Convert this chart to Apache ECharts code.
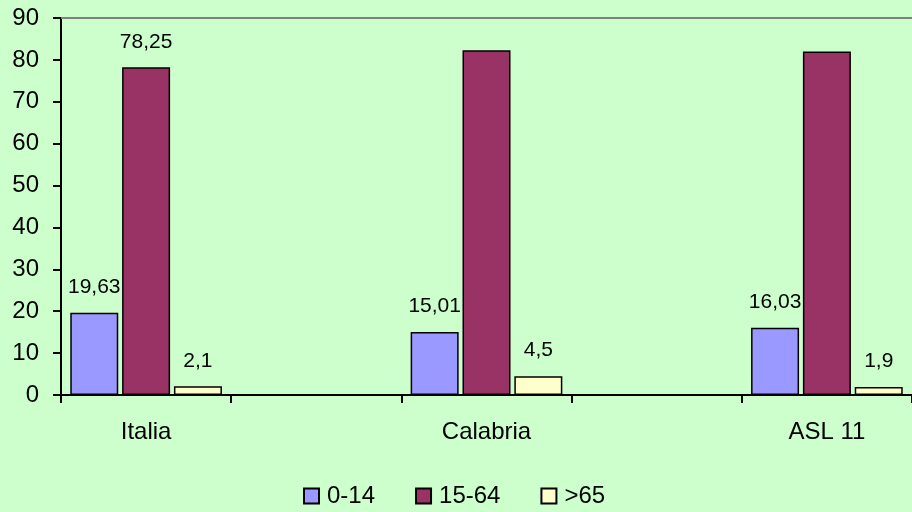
<!DOCTYPE html>
<html>
<head>
    <meta charset="utf-8">
    <script src="https://cdn.jsdelivr.net/npm/echarts@6/dist/echarts.min.js"></script>
    <style>
        body { margin: 0; background: #CCFFCC; }
    </style>
</head>
<body>
    <div id="main" style="width: 912px;height:512px;"></div>
	<script type="text/javascript">
        // categorie (quelle vuote fanno da spaziatura come nell'originale)
        var categorie = ['Italia', '', 'Calabria', '', 'ASL 11'];
        var fasce = ['0-14', '15-64', '>65'];
        var eta0_14 = [19.63, null, 15.01, null, 16.03];
        var eta15_64 = [78.25, null, 82.3, null, 82.0];
        var eta65 = [2.1, null, 4.5, null, 1.9];
        // quali etichette sono visibili
        var etichette0_14 = [true, false, true, false, true];
        var etichette15_64 = [true, false, false, false, false];
        var etichette65 = [true, false, true, false, true];
        var yTicks = [0, 10, 20, 30, 40, 50, 60, 70, 80, 90];

        var colori = ['#9999FF', '#993366', '#FFFFCC'];

        function serie(nome, valori, mostra, colore) {
            return {
                name: nome,
                type: 'bar',
                barWidth: 48,
                barGap: '8%',
                itemStyle: { color: colore, borderColor: '#000', borderWidth: 1.5 },
                data: valori.map(function (v, i) {
                    return {
                        value: v,
                        label: {
                            show: mostra[i],
                            position: 'top',
                            distance: 15,
                            color: '#000',
                            fontFamily: 'Liberation Sans, Arial',
                            fontSize: 21,
                            formatter: function (p) { return String(p.value).replace('.', ','); }
                        }
                    };
                })
            };
        }

        var myChart = echarts.init(document.getElementById('main'));
		myChart.setOption({
            backgroundColor: '#CCFFCC',
            animation: false,
            textStyle: { fontFamily: 'Liberation Sans, Arial' },
            grid: { left: 61, top: 18, width: 860, height: 377 },
			legend: {
				data: fasce,
                top: 479,
                left: 298,
                itemWidth: 15,
                itemHeight: 15,
                itemGap: 40,
                icon: 'rect',
                textStyle: { fontSize: 24, color: '#000', padding: [0, 0, 0, 3] }
			},
			xAxis: [{
                type: 'category',
				data: categorie,
                axisLine: { lineStyle: { color: '#000', width: 2 } },
                axisTick: { show: true, length: 8, lineStyle: { color: '#000', width: 2 } },
                axisLabel: { fontSize: 24, color: '#000', margin: 25 }
			}, {
                type: 'category',
                position: 'top',
                data: categorie,
                axisLine: { lineStyle: { color: '#808080', width: 2 } },
                axisTick: { show: false },
                axisLabel: { show: false }
            }],
			yAxis: {
                type: 'value',
                min: yTicks[0],
                max: yTicks[yTicks.length - 1],
                interval: 10,
                axisLine: { show: true, lineStyle: { color: '#000', width: 2 } },
                axisTick: { show: true, length: 8, lineStyle: { color: '#000', width: 2 } },
                axisLabel: { fontSize: 24, color: '#000', margin: 22 },
                splitLine: { show: false }
            },
			series: [
                serie(fasce[0], eta0_14, etichette0_14, colori[0]),
                serie(fasce[1], eta15_64, etichette15_64, colori[1]),
                serie(fasce[2], eta65, etichette65, colori[2])
            ]
		});
    </script>
</body>
</html>
